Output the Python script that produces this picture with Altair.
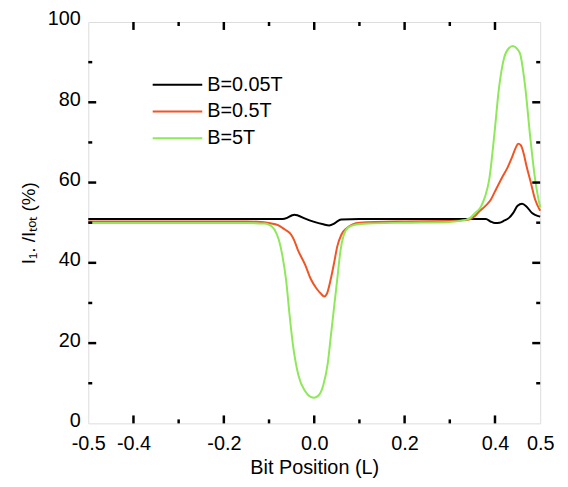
import altair as alt
import pandas as pd

# ---- data ----
series_names = ["B=0.05T", "B=0.5T", "B=5T"]
series_colors = ["#000000", "#F05523", "#8EE85A"]

black_x = [-0.5, -0.3, -0.1, -0.07, -0.06, -0.05, -0.044, -0.036, -0.02, 0.0, 0.02, 0.033, 0.043, 0.052, 0.06, 0.1, 0.2, 0.3, 0.38, 0.39, 0.4, 0.41, 0.42, 0.431, 0.44, 0.45, 0.46, 0.47, 0.482, 0.49, 0.5]
black_v = [50.9, 50.9, 50.9, 50.9, 51.2, 51.8, 52.0, 51.8, 51.0, 50.2, 49.6, 49.3, 49.7, 50.4, 50.8, 50.9, 50.9, 50.9, 50.9, 50.3, 49.9, 50.0, 50.5, 51.2, 52.4, 54.2, 54.7, 54.0, 52.4, 51.9, 51.5]

orange_x = [-0.5, -0.3, -0.15, -0.117, -0.1, -0.08, -0.065, -0.051, -0.045, -0.0365, -0.02, -0.0073, 0.005, 0.015, 0.022, 0.028, 0.0365, 0.044, 0.051, 0.06, 0.0725, 0.085, 0.1, 0.2, 0.3, 0.34, 0.355, 0.365, 0.38, 0.3907, 0.4, 0.4163, 0.428, 0.438, 0.446, 0.4514, 0.457, 0.4636, 0.47, 0.478, 0.489, 0.5]
orange_v = [50.3, 50.3, 50.3, 50.2, 49.9, 49.4, 48.3, 47.0, 45.8, 43.3, 39.5, 35.9, 33.6, 32.3, 31.6, 32.3, 35.9, 40.0, 44.1, 47.0, 48.7, 49.6, 50.0, 50.3, 50.4, 50.7, 51.6, 52.8, 54.3, 55.7, 57.8, 61.4, 63.8, 66.4, 68.7, 69.7, 69.3, 67.2, 64.0, 60.6, 55.7, 53.0]

green_x = [-0.5, -0.3, -0.15, -0.11, -0.098, -0.088, -0.078, -0.07, -0.062, -0.055, -0.047, -0.035, -0.02, -0.008, 0.0, 0.01, 0.02, 0.03, 0.037, 0.045, 0.052, 0.058, 0.065, 0.075, 0.09, 0.12, 0.2, 0.3, 0.335, 0.345, 0.355, 0.369, 0.378, 0.387, 0.398, 0.409, 0.42, 0.43, 0.4395, 0.45, 0.456, 0.467, 0.478, 0.489, 0.5]
green_v = [49.9, 49.9, 49.9, 49.8, 49.4, 48.3, 45.6, 41.5, 35.5, 27.5, 19.5, 12.0, 8.0, 6.6, 6.4, 7.0, 9.5, 15.0, 22.0, 30.0, 37.0, 43.0, 46.8, 48.8, 49.5, 49.8, 50.0, 50.2, 50.7, 51.2, 52.3, 54.0, 56.5, 60.6, 71.3, 83.7, 91.0, 93.4, 94.0, 93.2, 91.9, 83.7, 71.3, 60.6, 53.8]

x_labels = [-0.5, -0.4, -0.2, 0.0, 0.2, 0.4, 0.5]
x_major = [-0.4, -0.2, 0.0, 0.2, 0.4]
x_minor = [-0.3, -0.1, 0.1, 0.3]
y_labels = [0, 20, 40, 60, 80, 100]
y_major = [20, 40, 60, 80]
y_minor = [10, 30, 50, 70, 90]

# ---- build tables ----
rows = []
for name, xs, vs in zip(series_names, [black_x, orange_x, green_x], [black_v, orange_v, green_v]):
    for i, (a, b) in enumerate(zip(xs, vs)):
        rows.append({"x": a, "v": b, "series": name, "order": i})
df = pd.DataFrame(rows)

W, H = 456, 405
FONT = "Liberation Sans"
MAJ, MIN = 8, 4

xscale = alt.Scale(domain=[-0.5, 0.5], nice=False, zero=False)
yscale = alt.Scale(domain=[0, 100], nice=False, zero=False)

lines = alt.Chart(df).mark_line(strokeWidth=2, interpolate="monotone").encode(
    x=alt.X("x:Q", scale=xscale, title="Bit Position (L)",
            axis=alt.Axis(values=x_labels, domain=False, ticks=False, grid=False,
                          labelExpr="datum.value < 0 ? '-' + format(-datum.value, '.1f') : format(datum.value, '.1f')",
                          labelFontSize=20, labelFont=FONT, labelColor="black", labelPadding=10,
                          titleFontSize=20, titleFont=FONT, titleFontWeight="normal", titleColor="black",
                          titlePadding=5, labelFlush=False)),
    y=alt.Y("v:Q", scale=yscale, title="I₁. /Iₜₒₜ (%)",
            axis=alt.Axis(values=y_labels, domain=False, ticks=False, grid=False,
                          labelFontSize=20, labelFont=FONT, labelColor="black", labelPadding=8,
                          labelOffset=-3,
                          titleFontSize=19, titleFont=FONT, titleFontWeight="normal", titleColor="black",
                          titlePadding=9)),
    color=alt.Color("series:N", scale=alt.Scale(domain=series_names, range=series_colors),
                    legend=alt.Legend(orient="none", legendX=64, legendY=50, title=None,
                                      symbolType="stroke", symbolSize=2500, symbolStrokeWidth=2,
                                      clipHeight=26.5, rowPadding=0, padding=0, labelOffset=4,
                                      labelFontSize=20, labelFont=FONT, labelColor="black")),
    order="order:Q",
)

def xticks(vals, length):
    d = pd.DataFrame({"x": vals})
    bottom = alt.Chart(d).mark_rule(color="black", strokeWidth=2.5).encode(
        x=alt.X("x:Q", scale=xscale), y=alt.value(H), y2=alt.value(H - length))
    top = alt.Chart(d).mark_rule(color="black", strokeWidth=2.5).encode(
        x=alt.X("x:Q", scale=xscale), y=alt.value(0), y2=alt.value(length))
    return [bottom, top]

def yticks(vals, length):
    d = pd.DataFrame({"v": vals})
    left = alt.Chart(d).mark_rule(color="black", strokeWidth=2.5).encode(
        y=alt.Y("v:Q", scale=yscale), x=alt.value(0), x2=alt.value(length))
    right = alt.Chart(d).mark_rule(color="black", strokeWidth=2.5).encode(
        y=alt.Y("v:Q", scale=yscale), x=alt.value(W), x2=alt.value(W - length))
    return [left, right]

layers = [lines] + xticks(x_major, MAJ) + xticks(x_minor, MIN) + yticks(y_major, MAJ) + yticks(y_minor, MIN)

chart = alt.layer(*layers).properties(
    width=W, height=H,
    autosize=alt.AutoSizeParams(type="none"),
    padding={"left": 81, "top": 12, "right": 20, "bottom": 55},
).configure_view(stroke="black", strokeWidth=3.5).configure(background="white")

chart.save("out.html", embed_options={"renderer": "svg", "actions": False})
